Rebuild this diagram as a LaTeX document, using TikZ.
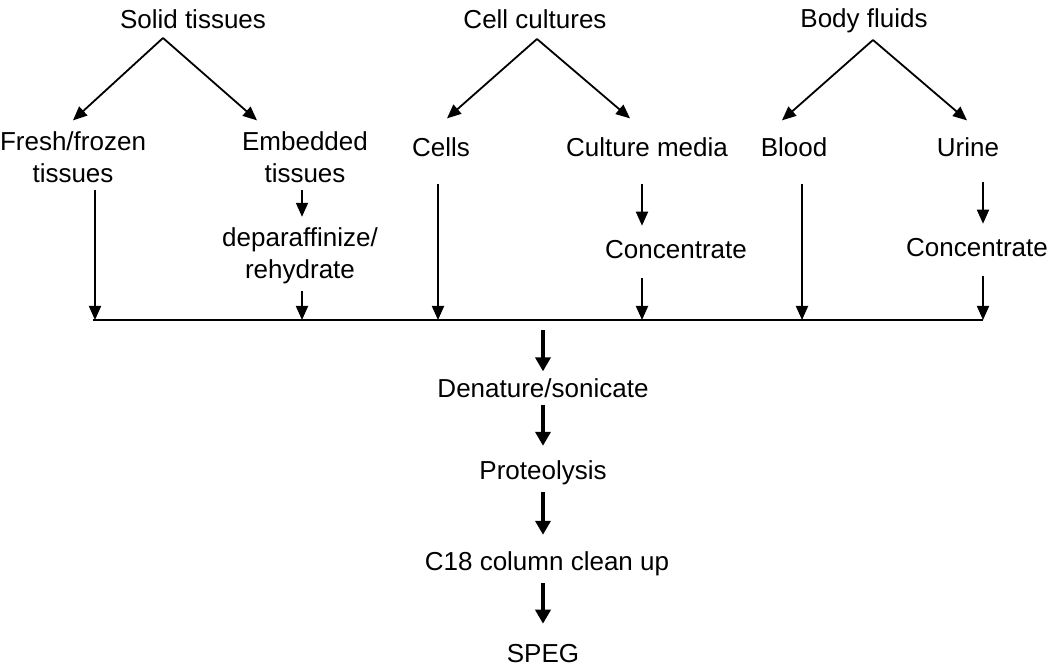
\documentclass[tikz,border=0pt]{standalone}
\usepackage{fontspec}
\setmainfont{Liberation Sans}
\usetikzlibrary{arrows.meta, calc}

\begin{document}
\begin{tikzpicture}[
    x=0.5pt, y=-0.5pt,
    every node/.style={font=\fontsize{13}{16}\selectfont, align=center},
    arrow/.style={line width=0.9pt, -{Triangle[length=7pt,width=6pt]}},
    bigarrow/.style={line width=2pt, -{Triangle[length=7pt,width=7.5pt]}}
]
    \useasboundingbox (0,0) rectangle (1050,672);

    % sources
    \node (solid) at (193,19) {Solid tissues};
    \node (cellcult) at (535,19) {Cell cultures};
    \node (body) at (864,21) {Body fluids};
    \coordinate (solidtop) at (163,38);
    \coordinate (celltop) at (537,39);
    \coordinate (bodytop) at (873,40);

    % sample types
    \node (fresh) at (73,157) {Fresh/frozen\\tissues};
    \node (embed) at (305,157) {Embedded\\tissues};
    \node (cells) at (441,147) {Cells};
    \node (media) at (647,147) {Culture media};
    \node (blood) at (794,147) {Blood};
    \node (urine) at (968,147) {Urine};
    \node (deparaf) at (300,256) {deparaffinize/\\rehydrate};
    \node (conc1) at (676,250) {Concentrate};
    \node (conc2) at (977,248) {Concentrate};

    % common line
    \coordinate (m1) at (95,320);
    \coordinate (m2) at (302,320);
    \coordinate (m3) at (438,320);
    \coordinate (m4) at (642,320);
    \coordinate (m5) at (802,320);
    \coordinate (m6) at (983,320);
    \coordinate (mid) at (543,320);
    \draw[line width=0.9pt] ([xshift=-1pt]m1) -- (m6);

    % workflow
    \node (denat) at (543,388) {Denature/sonicate};
    \node (prot) at (543,473) {Proteolysis};
    \node (c18) at (547,564) {C18 column clean up};
    \node (speg) at (543,654) {SPEG};

    \draw[arrow] (solidtop) -- ([yshift=2pt]fresh.north);
    \draw[arrow] (solidtop) -- ([xshift=-24pt,yshift=2pt]embed.north);
    \draw[arrow] (celltop) -- ([xshift=3pt,yshift=6pt]cells.north);
    \draw[arrow] (celltop) -- ([xshift=-8.5pt,yshift=6pt]media.north);
    \draw[arrow] (bodytop) -- ([xshift=-6pt,yshift=5pt]blood.north);
    \draw[arrow] (bodytop) -- ([xshift=-0.5pt,yshift=5pt]urine.north);

    \draw[arrow] (fresh.south -| m1) -- (m1);
    \draw[arrow] (embed.south -| m2) -- ([yshift=2pt]deparaf.north -| m2);
    \draw[arrow] (deparaf.south -| m2) -- (m2);
    \draw[arrow, shorten <=10pt] (cells.south -| m3) -- (m3);
    \draw[arrow, shorten <=10pt, shorten >=4pt] (media.south -| m4) -- (conc1.north -| m4);
    \draw[arrow, shorten <=6pt] (conc1.south -| m4) -- (m4);
    \draw[arrow, shorten <=10pt] (blood.south -| m5) -- (m5);
    \draw[arrow, shorten <=9pt, shorten >=4pt] (urine.south -| m6) -- (conc2.north -| m6);
    \draw[arrow, shorten <=6pt] (conc2.south -| m6) -- (m6);

    \draw[bigarrow, shorten <=5pt] (mid) -- (denat.north);
    \draw[bigarrow, shorten >=4pt] (denat.south) -- (prot.north);
    \draw[bigarrow, shorten >=5pt] (prot.south) -- (c18.north -| prot.south);
    \draw[bigarrow, shorten >=7pt] (c18.south -| prot.south) -- (speg.north);
\end{tikzpicture}
\end{document}
